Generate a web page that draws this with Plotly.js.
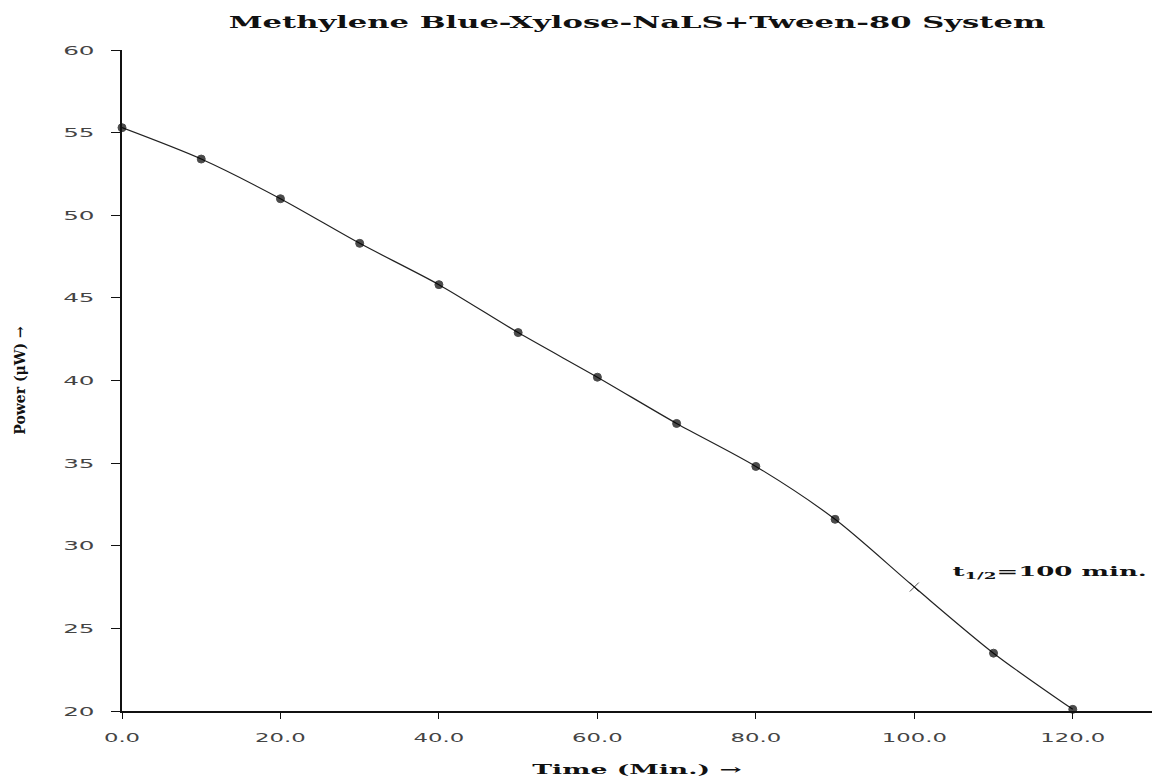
<!DOCTYPE html>
<html>
<head>
<meta charset="utf-8">
<script src="https://cdn.plot.ly/plotly-3.0.1.min.js"></script>
<style>html,body{margin:0;padding:0;background:#fff;}#chart{width:1154px;height:781px;}</style>
</head>
<body>
<div id="chart"></div>
<script>
const timeMin = [0, 10, 20, 30, 40, 50, 60, 70, 80, 90, 100, 110, 120];
const powerUW = [55.3, 53.4, 51.0, 48.3, 45.8, 42.9, 40.2, 37.4, 34.8, 31.6, 27.5, 23.5, 20.1];
const halfLifeIndex = 10;
const xTickVals = [0, 20, 40, 60, 80, 100, 120];
const xTickText = ["0.0", "20.0", "40.0", "60.0", "80.0", "100.0", "120.0"];
const yTickVals = [20, 25, 30, 35, 40, 45, 50, 55, 60];
const titleText = "Methylene Blue-Xylose-NaLS+Tween-80 System";
const xTitleText = "Time (Min.) →";
const yTitleText = "Power (μW) →";
const halfLifeText = "t<sub>1/2</sub>=100 min.";

const symbols = timeMin.map((t, i) => i === halfLifeIndex ? "x-thin" : "circle");
const sizes = timeMin.map((t, i) => i === halfLifeIndex ? 9 : 8);

const trace = {
  x: timeMin, y: powerUW,
  mode: "lines+markers",
  line: {shape: "spline", smoothing: 0.8, color: "#222", width: 1.2},
  marker: {symbol: symbols, size: sizes, color: "#000", line: {color: "#000", width: 1}},
  cliponaxis: false,
  hoverinfo: "x+y"
};

const serif = "DejaVu Serif, Liberation Serif, serif";
const sans = "DejaVu Sans, Verdana, sans-serif";

const layout = {
  width: 1154, height: 781,
  margin: {l: 122, r: 2, t: 50, b: 70},
  paper_bgcolor: "#fff", plot_bgcolor: "#fff",
  showlegend: false,
  title: {text: titleText, font: {family: serif, size: 17, weight: "bold", color: "#111"}, x: 0.552, xanchor: "center", y: 0.972, yanchor: "middle"},
  xaxis: {
    range: [0, 130], tickvals: xTickVals, ticktext: xTickText,
    showgrid: false, zeroline: false, showline: true, linecolor: "#111", linewidth: 1.5,
    ticks: "outside", ticklen: 6, tickcolor: "#111", ticklabelstandoff: 8,
    tickfont: {family: sans, size: 13, color: "#444"},
    title: {text: xTitleText, font: {family: serif, size: 13, weight: "bold", color: "#111"}, standoff: 21}
  },
  yaxis: {
    range: [20, 60], tickvals: yTickVals,
    showgrid: false, zeroline: false, showline: true, linecolor: "#111", linewidth: 1.8,
    ticks: "outside", ticklen: 9, tickcolor: "#111", ticklabelstandoff: 14,
    tickfont: {family: sans, size: 13, color: "#444"},
    title: {text: yTitleText, font: {family: serif, size: 14, weight: "bold", color: "#111"}, standoff: 49}
  },
  annotations: [{
    x: 117.1, y: 28.4, xref: "x", yref: "y", xanchor: "center", yanchor: "middle",
    text: halfLifeText, showarrow: false,
    font: {family: serif, size: 13, weight: "bold", color: "#111"}
  }]
};

function stretch(selector, factor) {
  document.querySelectorAll("#chart " + selector).forEach(t => {
    const w = t.getComputedTextLength();
    if (w > 0) {
      t.setAttribute("textLength", (w * factor).toFixed(1));
      t.setAttribute("lengthAdjust", "spacingAndGlyphs");
    }
  });
}

Plotly.newPlot("chart", [trace], layout, {displayModeBar: false, staticPlot: true}).then(() => {
  stretch(".xtick text", 1.75);
  stretch(".ytick text", 1.9);
  stretch(".gtitle", 1.8);
  stretch(".xtitle", 2.05);
  stretch(".annotation-text", 2.0);
});
</script>
</body>
</html>
